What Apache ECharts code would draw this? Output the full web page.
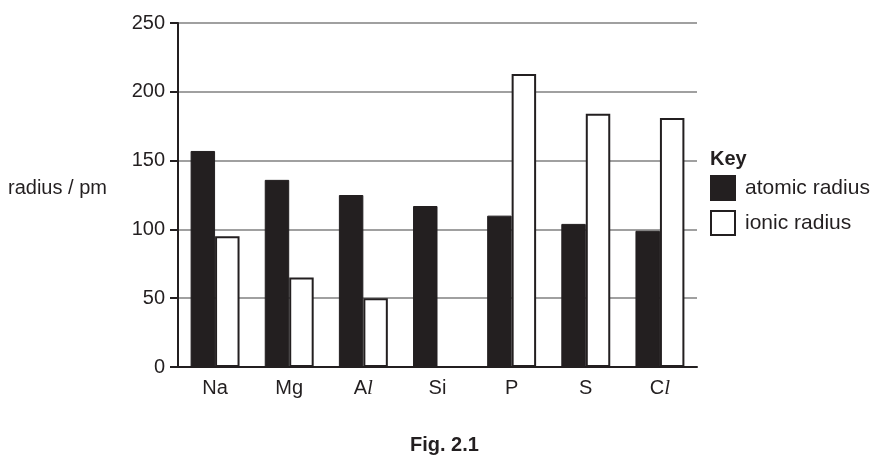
<!DOCTYPE html>
<html>
<head>
<meta charset="utf-8">
<script src="https://cdn.jsdelivr.net/npm/echarts@6/dist/echarts.min.js"></script>
<style>
  html, body { margin: 0; padding: 0; background: #fff; }
  #chart { width: 880px; height: 459px; }
</style>
</head>
<body>
<div id="chart"></div>
<script>
// Fig. 2.1 atomic / ionic radius
var elements = ['Na', 'Mg', 'Al', 'Si', 'P', 'S', 'Cl'];
var atomicRadius = [157, 136, 125, 117, 110, 104, 99];
var ionicRadius = [95, 65, 50, null, 213, 184, 181];
var ink = '#231f20';
var font = 'Arial, "Liberation Sans", Helvetica, sans-serif';

var chartDom = document.getElementById('chart');
var radiusChart = echarts.init(chartDom);
var option;

option = {
  animation: false,
  textStyle: { fontFamily: font, color: ink },
  grid: {
    left: 178,
    right: 183,
    top: 23,
    bottom: 92
  },
  legend: {
    orient: 'vertical',
    left: 710,
    top: 175,
    padding: 0,
    itemWidth: 24,
    itemHeight: 24,
    itemGap: 9,
    icon: 'rect',
    selectedMode: false,
    textStyle: { fontSize: 21, color: ink, fontFamily: font, padding: [0, 0, 0, 5] },
    data: ['atomic radius', 'ionic radius']
  },
  graphic: [
    {
      type: 'text',
      left: 710,
      top: 149,
      style: { text: 'Key', font: 'bold 20px ' + font, fill: ink }
    },
    {
      type: 'text',
      left: 8,
      top: 178,
      style: { text: 'radius / pm', font: '20px ' + font, fill: ink }
    },
    {
      type: 'text',
      left: 410,
      top: 435,
      style: { text: 'Fig. 2.1', font: 'bold 20px ' + font, fill: ink }
    }
  ],
  xAxis: {
    type: 'category',
    data: elements,
    axisLine: { lineStyle: { color: ink, width: 2 } },
    axisTick: { show: false },
    axisLabel: {
      fontSize: 20,
      color: ink,
      margin: 11,
      formatter: function (value) {
        // the "l" of Al and Cl is set as an italic serif letter
        if (value.slice(-1) === 'l') {
          return value.slice(0, -1) + '{it|l}';
        }
        return value;
      },
      rich: {
        it: { fontFamily: '"Liberation Serif", "Times New Roman", serif', fontStyle: 'italic', fontSize: 21, color: ink }
      }
    }
  },
  yAxis: {
    type: 'value',
    min: 0,
    max: 250,
    interval: 50,
    axisLine: { show: true, lineStyle: { color: ink, width: 2 } },
    axisTick: { show: true, length: 8, lineStyle: { color: ink, width: 2 } },
    axisLabel: { fontSize: 20, color: ink, margin: 13 },
    splitLine: { lineStyle: { color: '#808080', width: 1.5 } }
  },
  series: [
    {
      name: 'atomic radius',
      type: 'bar',
      barGap: '0%',
      barCategoryGap: '34%',
      itemStyle: { color: ink, borderColor: ink, borderWidth: 1 },
      data: atomicRadius
    },
    {
      name: 'ionic radius',
      type: 'bar',
      itemStyle: { color: '#ffffff', borderColor: ink, borderWidth: 2 },
      data: ionicRadius
    }
  ]
};

option && radiusChart.setOption(option);
window.addEventListener('resize', function () { radiusChart.resize(); });
</script>
</body>
</html>
